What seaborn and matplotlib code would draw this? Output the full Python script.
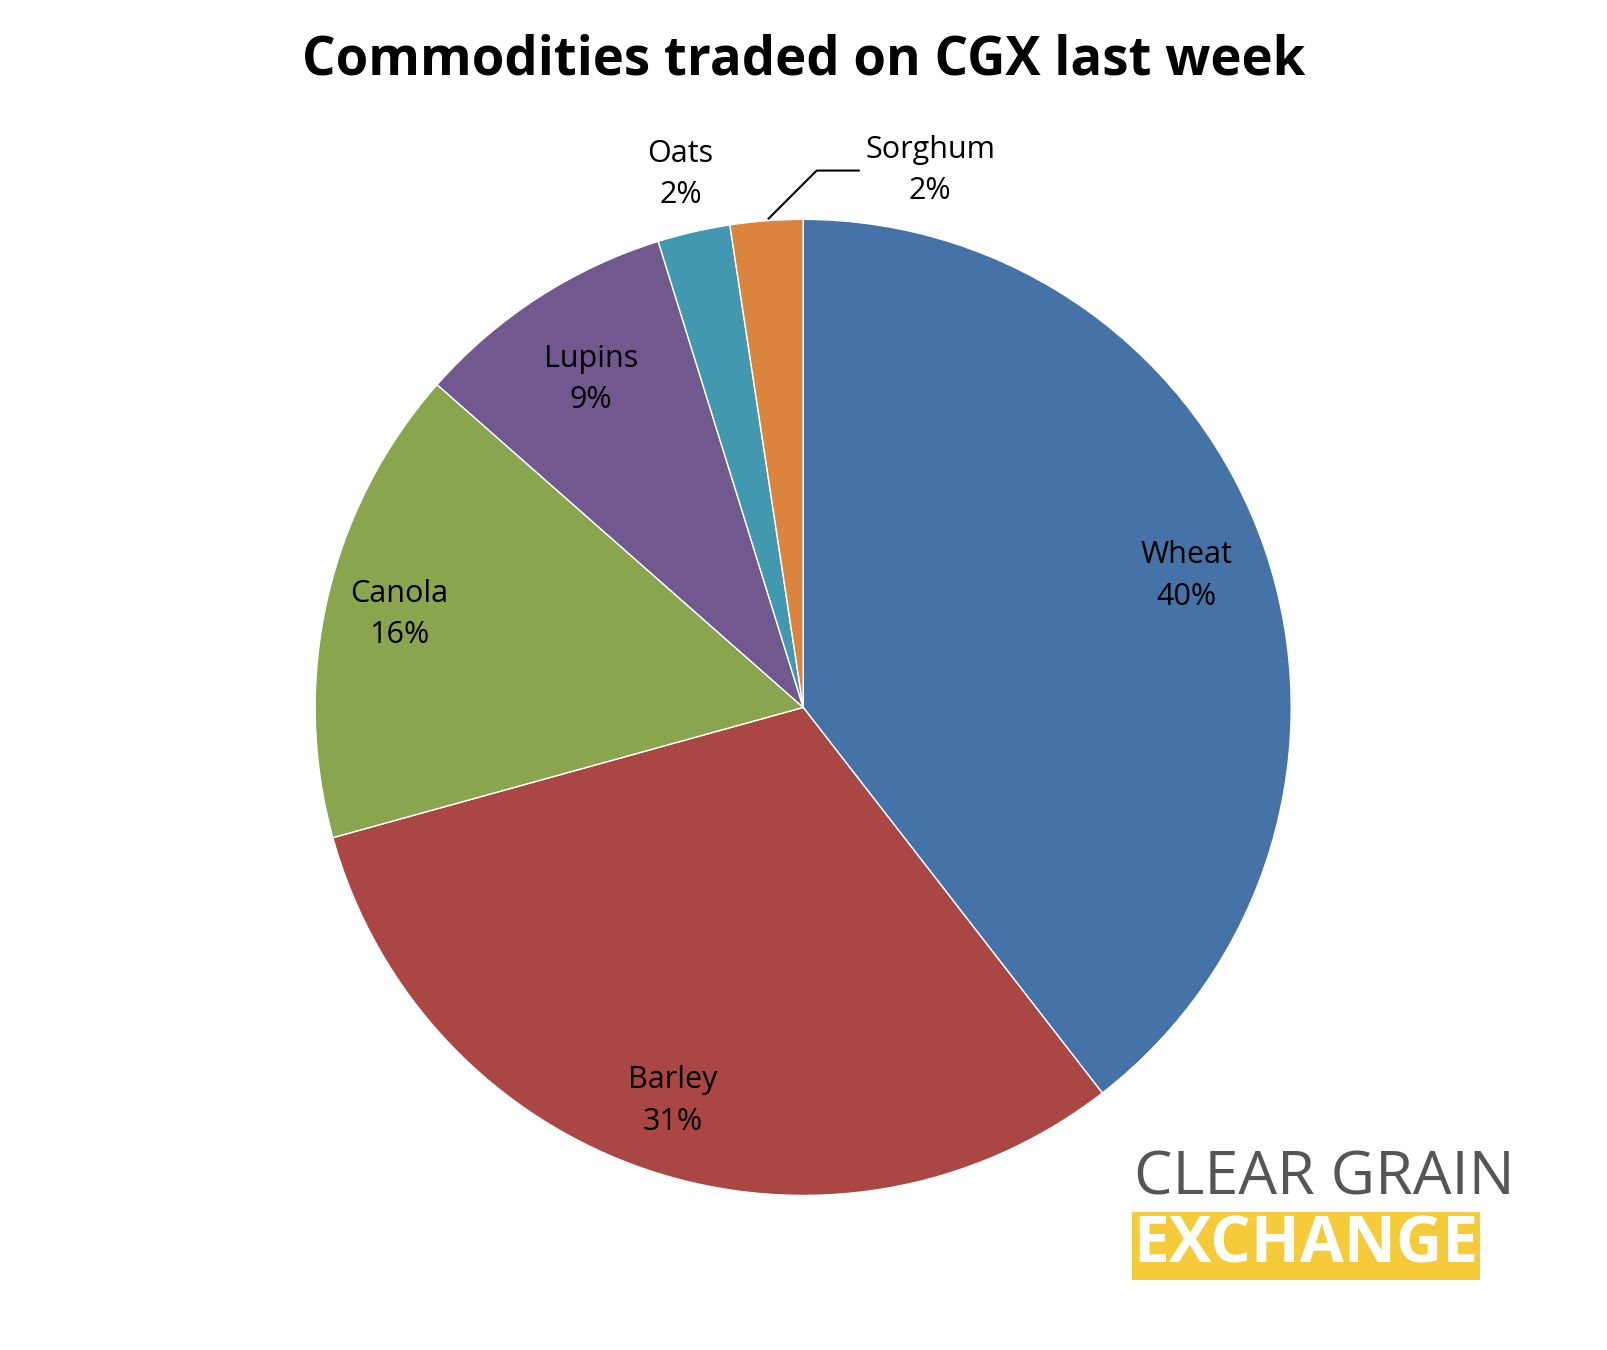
import numpy as np
import matplotlib.pyplot as plt
import seaborn as sns

commodities = ["Wheat", "Barley", "Canola", "Lupins", "Oats", "Sorghum"]
shares = [39.5, 31.2, 15.8, 8.7, 2.4, 2.4]
pct_labels = ["40%", "31%", "16%", "9%", "2%", "2%"]
colors = ["#4572A7", "#AA4643", "#89A54E", "#71588F", "#4198AF", "#DB843D"]

sns.set_theme(style="white")
plt.rcParams["font.family"] = ["Open Sans", "DejaVu Sans"]
plt.rcParams["text.color"] = "black"

fig = plt.figure(figsize=(16.08, 13.5), dpi=100)
ax = fig.add_axes([0.4995 - 0.3035, 0.476 - 0.3615, 0.607, 0.723])
wedges, _ = ax.pie(shares, colors=colors, startangle=90, counterclock=False,
                   wedgeprops=dict(linewidth=1, edgecolor="white"))
ax.set_xlim(-1, 1)
ax.set_ylim(-1, 1)
ax.set_aspect("equal")

dist = {"Wheat": 0.83, "Barley": 0.85, "Canola": 0.85, "Lupins": 0.8, "Oats": 1.12}
for w, name, pl in zip(wedges, commodities, pct_labels):
    mid = np.deg2rad((w.theta1 + w.theta2) / 2)
    if name == "Sorghum":
        x, y = np.cos(mid), np.sin(mid)
        ax.annotate(f"{name}\n{pl}", xy=(x, y), xytext=(0.26, 1.1),
                    ha="center", va="center", fontsize=22, linespacing=1.5,
                    arrowprops=dict(arrowstyle="-", color="black", lw=1.5,
                                    connectionstyle="angle,angleA=0,angleB=45"))
        continue
    r = dist[name]
    ax.text(r * np.cos(mid), r * np.sin(mid), f"{name}\n{pl}", ha="center", va="center",
            fontsize=22, linespacing=1.5)

fig.suptitle("Commodities traded on CGX last week", fontsize=38, fontweight="bold", y=0.975)

fig.text(0.705, 0.127, "CLEAR GRAIN", fontsize=44, color="#555555", ha="left", va="center")
fig.text(0.705, 0.077, "EXCHANGE", fontsize=46, color="white", fontweight="bold", ha="left", va="center",
         bbox=dict(boxstyle="square,pad=0.02", facecolor="#F5CB3A", edgecolor="none"))

fig.savefig("out.png", dpi=100)
